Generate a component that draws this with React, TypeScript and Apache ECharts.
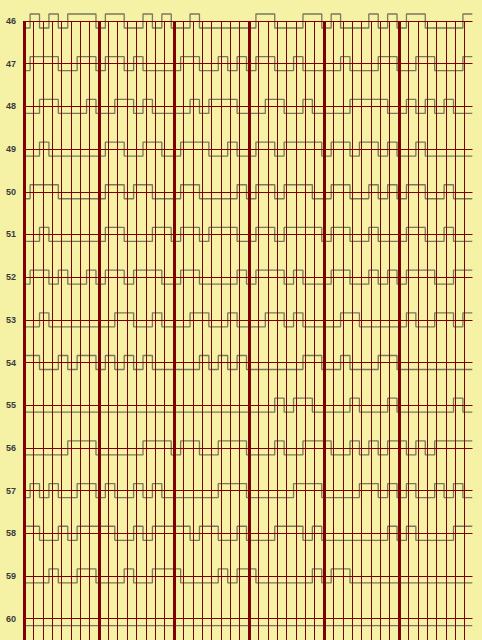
import React, { useEffect, useRef } from "react";
import * as echarts from "echarts";

// Row labels (y axis ticks)
const rowLabels = [46, 47, 48, 49, 50, 51, 52, 53, 54, 55, 56, 57, 58, 59, 60];

// Digital signal per row: one character per bit slot (1 = high, 0 = low)
const row46 = "010101110110010100100000011000110100010101100001";
const row47 = "011100110110100001100101011001000010001100110001";
const row48 = "001100010011010000101110001100100001111001010100";
const row49 = "001000000110011001110010011011110110110100100000";
const row50 = "011100000110110001100001011011100110010101100100";
const row51 = "001000000110001101101110011011110110010001100100";
const row52 = "011010010110111001100001011101000110010101110011";
const row53 = "001000000011001000110010001101000011000001001101";
const row54 = "110010110101010000010101000000110010001100000000";
const row55 = "000000000000000000000000000101100001000100000010";
const row56 = "000001110000011101100111000100111001010110101111";
const row57 = "010100110100101000000111000001110000110101001010";
const row58 = "110010111100101111011001000111010000000101000011";
const row59 = "000100110001001110000101100000010110000000000000";
const row60 = "000000000000000000000000000000000000000000000000";
const bitRows = [row46, row47, row48, row49, row50, row51, row52, row53, row54, row55, row56, row57, row58, row59, row60];

const BG = "#f5f2a6";
const GRID_RED = "#800000";
const SIGNAL = "#7a7858";

export default function App() {
  const ref = useRef<HTMLDivElement>(null);

  useEffect(() => {
    if (!ref.current) return;
    const chart = echarts.init(ref.current, null, { renderer: "svg" });
    const half = 0.164;

    const series = bitRows.map((bits, r) => {
      const base = rowLabels[r];
      const pts: number[][] = [];
      for (let i = 0; i < bits.length; i++) {
        pts.push([i, bits[i] === "1" ? base - half : base + half]);
      }
      pts.push([bits.length, pts[pts.length - 1][1]]);
      return {
        type: "line",
        name: String(base),
        step: "end",
        data: pts,
        xAxisIndex: 0,
        yAxisIndex: 0,
        symbol: "none",
        clip: false,
        silent: true,
        z: 1,
        lineStyle: { color: SIGNAL, width: 1.3 },
      };
    });

    chart.setOption({
      animation: false,
      backgroundColor: BG,
      grid: { left: 24, right: 9.5, top: 21, bottom: 0, containLabel: false },
      xAxis: [
        { type: "value", min: 0.351, max: 48.02, show: false },
        {
          type: "value",
          min: 0,
          max: 47.84,
          interval: 1,
          z: 3,
          axisLine: { show: false },
          axisTick: { show: false },
          axisLabel: { show: false },
          splitLine: { show: true, showMinLine: true, showMaxLine: false, lineStyle: { color: GRID_RED, width: 1 } },
        },
        {
          type: "value",
          min: 0,
          max: 47.84,
          interval: 8,
          z: 4,
          axisLine: { show: false },
          axisTick: { show: false },
          axisLabel: { show: false },
          splitLine: { show: true, showMinLine: true, showMaxLine: false, lineStyle: { color: GRID_RED, width: 3 } },
        },
      ],
      yAxis: [
        {
          type: "value",
          inverse: true,
          min: rowLabels[0],
          max: rowLabels[rowLabels.length - 1] + 0.5,
          interval: 1,
          z: 3,
          axisLine: { show: false },
          axisTick: { show: false },
          axisLabel: {
            show: true,
            showMaxLabel: false,
            margin: 8,
            color: "#3a3a3a",
            fontSize: 9,
            fontWeight: "bold",
            fontFamily: "Liberation Sans",
            formatter: (v: number) => (Number.isInteger(v) ? String(v) : ""),
          },
          splitLine: { show: true, showMinLine: true, showMaxLine: false, lineStyle: { color: GRID_RED, width: 1 } },
        },
      ],
      series,
    });

    return () => chart.dispose();
  }, []);

  return (
    <div
      ref={ref}
      style={{ position: "fixed", left: 0, top: 0, width: 482, height: 640, background: BG }}
    />
  );
}
